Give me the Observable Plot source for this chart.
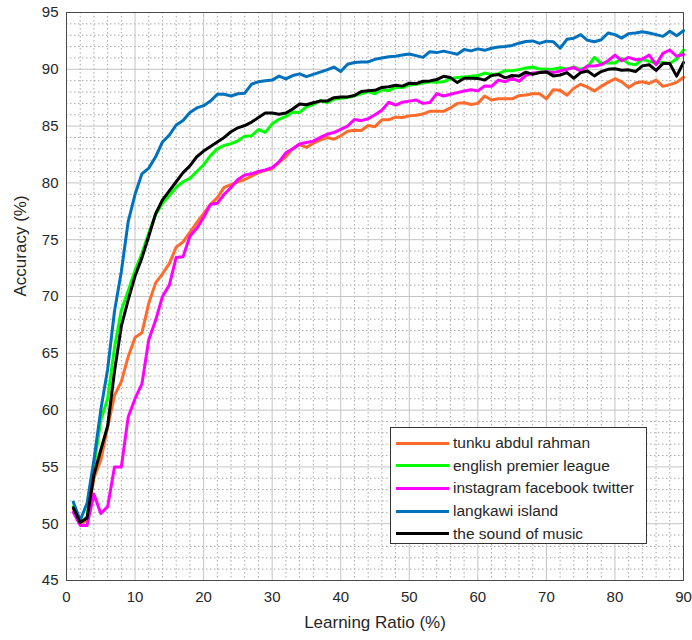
<!DOCTYPE html>
<html><head><meta charset="utf-8">
<script src="https://cdn.jsdelivr.net/npm/d3@7"></script>
<script src="https://cdn.jsdelivr.net/npm/@observablehq/plot@0.6"></script>
<style>
body{margin:0;background:#fff;font-family:"Liberation Sans",Arial,sans-serif}
#wrap{position:relative;width:692px;height:640px}
#legend{position:absolute;left:390px;top:427px;width:257px;height:117px;border:1px solid #333;background:#fff;box-sizing:border-box;padding-top:4px}
.row{display:flex;align-items:center;height:22.6px;font-size:15.5px;color:#262626}
.sw{width:53px;height:3px;margin-left:5px;margin-right:4px}
</style></head><body><div id="wrap"><div id="chart"></div><div id="legend"></div></div>
<script>
const learningRatio = [1,2,3,4,5,6,7,8,9,10,11,12,13,14,15,16,17,18,19,20,21,22,23,24,25,26,27,28,29,30,31,32,33,34,35,36,37,38,39,40,41,42,43,44,45,46,47,48,49,50,51,52,53,54,55,56,57,58,59,60,61,62,63,64,65,66,67,68,69,70,71,72,73,74,75,76,77,78,79,80,81,82,83,84,85,86,87,88,89,90];

const tunku = [51.3,50.0,50.3,54.0,55.6,58.5,61.3,62.5,64.7,66.4,66.8,69.4,71.2,72.0,72.9,
74.35,74.8,75.65,76.5,77.3,78.1,78.7,79.6,79.85,80.1,80.3,80.6,80.9,81.1,81.25,81.8,
82.3,83.0,83.38,83.12,83.5,83.76,83.99,83.84,84.14,84.55,84.63,84.62,85.05,84.95,85.55,85.55,85.8,85.75,85.9,85.95,86.07,86.3,86.3,86.3,86.6,87.0,87.05,86.9,87.0,87.65,87.3,87.4,87.4,87.4,87.68,87.74,87.85,87.85,87.4,88.2,88.15,87.71,88.33,88.68,88.43,88.1,88.5,88.85,89.17,88.9,88.4,88.8,88.9,88.75,89.05,88.5,88.65,88.85,89.3];

const epl = [51.5,50.1,50.6,55.0,59.1,61.0,65.5,68.8,70.5,72.3,73.8,75.6,77.2,78.2,78.9,
79.6,80.1,80.4,81.0,81.6,82.4,83.0,83.3,83.45,83.7,84.1,84.15,84.7,84.45,85.2,85.6,
85.85,86.25,86.2,86.7,86.9,87.25,87.07,87.36,87.45,87.52,87.67,87.85,88.05,87.85,88.2,88.12,88.4,88.4,88.62,88.68,88.8,88.9,88.85,88.9,89.17,89.27,89.33,89.38,89.45,89.67,89.55,89.62,89.88,89.87,89.97,90.12,90.2,90.02,90.0,90.0,90.15,90.0,90.2,90.0,90.2,91.05,90.5,90.58,90.55,90.95,90.5,90.4,90.88,90.7,90.55,90.6,90.5,90.9,91.7];

const instagram = [51.0,49.85,49.85,52.6,50.9,51.5,55.0,55.0,59.4,61.0,62.3,66.2,67.9,70.0,71.0,
73.44,73.5,75.3,76.0,76.95,78.1,78.2,79.0,79.6,80.3,80.7,80.8,81.0,81.15,81.35,81.85,
82.65,83.0,83.43,83.55,83.68,84.0,84.28,84.43,84.72,85.0,85.58,85.48,85.65,86.0,86.4,87.1,86.85,87.1,87.2,87.3,87.0,87.07,87.86,87.65,87.8,87.95,88.09,88.2,88.1,88.53,88.5,89.05,88.9,89.2,88.95,89.45,89.68,89.71,89.78,89.71,89.85,90.0,90.15,89.85,90.29,90.29,90.4,90.75,91.25,90.75,91.05,90.85,90.9,91.25,90.4,91.4,91.7,91.15,91.3];

const langkawi = [51.9,50.3,51.8,55.6,60.0,63.6,68.7,72.2,76.6,79.0,80.8,81.3,82.3,83.6,84.2,
85.1,85.5,86.2,86.6,86.8,87.2,87.8,87.8,87.65,87.85,87.9,88.7,88.9,89.0,89.05,89.4,
89.15,89.45,89.6,89.35,89.55,89.75,89.95,90.2,89.8,90.45,90.6,90.65,90.65,90.88,91.0,91.1,91.15,91.25,91.35,91.2,91.05,91.55,91.47,91.6,91.47,91.32,91.75,91.62,91.8,91.67,91.85,91.97,92.0,92.1,92.3,92.45,92.5,92.28,92.48,92.43,91.85,92.64,92.73,93.05,92.55,92.43,92.6,93.2,93.05,92.75,93.14,93.2,93.3,93.2,93.05,92.9,93.35,92.95,93.4];

const soundOfMusic = [51.4,50.1,50.5,54.3,56.5,58.6,63.4,67.4,69.7,71.8,73.4,75.3,77.3,78.5,79.3,
80.1,80.9,81.5,82.3,82.8,83.2,83.6,84.0,84.5,84.85,85.05,85.35,85.75,86.15,86.15,86.05,
86.15,86.5,86.95,86.88,87.05,87.2,87.2,87.5,87.57,87.57,87.7,88.05,88.12,88.15,88.4,88.47,88.6,88.52,88.78,88.74,88.95,88.98,89.1,89.38,89.27,88.83,89.21,89.21,89.2,89.05,89.45,89.55,89.25,89.45,89.4,89.75,89.55,89.72,89.77,89.42,89.5,89.71,89.21,89.71,89.85,89.42,89.8,90.0,90.05,89.92,89.95,89.8,90.3,90.4,89.9,90.5,90.5,89.4,90.6];

const seriesNames = ["tunku abdul rahman","english premier league","instagram facebook twitter","langkawi island","the sound of music"];
const seriesColors = ["#FF6B2B","#00FF00","#FF00FF","#0072BD","#000000"];
const seriesValues = [tunku, epl, instagram, langkawi, soundOfMusic];

const xTicks = [0,10,20,30,40,50,60,70,80,90];
const yTicks = [45,50,55,60,65,70,75,80,85,90,95];
const xMinor = [2,4,6,8,12,14,16,18,22,24,26,28,32,34,36,38,42,44,46,48,52,54,56,58,62,64,66,68,72,74,76,78,82,84,86,88];
const yMinor = [46,47,48,49,51,52,53,54,56,57,58,59,61,62,63,64,66,67,68,69,71,72,73,74,76,77,78,79,81,82,83,84,86,87,88,89,91,92,93,94];

const rows = [];
seriesNames.forEach((name, i) => {
  learningRatio.forEach((x, j) => rows.push({series: name, x, y: seriesValues[i][j]}));
});

const chart = Plot.plot({
  width: 692, height: 640,
  marginLeft: 66, marginRight: 9, marginTop: 12, marginBottom: 60,
  style: {fontFamily: "'Liberation Sans', Arial, sans-serif", fontSize: "15px", color: "#262626", background: "white"},
  x: {domain: [0, 90]},
  y: {domain: [45, 95]},
  color: {domain: seriesNames, range: seriesColors},
  marks: [
    Plot.ruleX(xMinor, {stroke: "#a8a8a8", strokeDasharray: "1.5,2.5", strokeWidth: 1}),
    Plot.ruleY(yMinor, {stroke: "#a8a8a8", strokeDasharray: "1.5,2.5", strokeWidth: 1}),
    Plot.ruleX(xTicks, {stroke: "#c4c4c4", strokeWidth: 1}),
    Plot.ruleY(yTicks, {stroke: "#c4c4c4", strokeWidth: 1}),
    Plot.axisX({ticks: xTicks, tickSize: 0, tickPadding: 11, label: null, fontSize: 15}),
    Plot.axisY({ticks: yTicks, tickSize: 0, tickPadding: 8, label: null, fontSize: 15}),
    Plot.text(["Learning Ratio (%)"], {frameAnchor: "bottom", dy: 47, fontSize: 17, fill: "#262626"}),
    Plot.text(["Accuracy (%)"], {frameAnchor: "left", dx: -46, rotate: -90, fontSize: 17, fill: "#262626"}),
    Plot.line(rows, {x: "x", y: "y", z: "series", stroke: "series", strokeWidth: 3, strokeLinejoin: "round"}),
    Plot.frame({stroke: "#4a4a4a", strokeWidth: 1})
  ]
});
document.getElementById("chart").appendChild(chart);

const legend = d3.select("#legend");
seriesNames.forEach((name, i) => {
  const r = legend.append("div").attr("class", "row");
  r.append("div").attr("class", "sw").style("background", seriesColors[i]);
  r.append("span").text(name);
});
</script>
</body></html>
